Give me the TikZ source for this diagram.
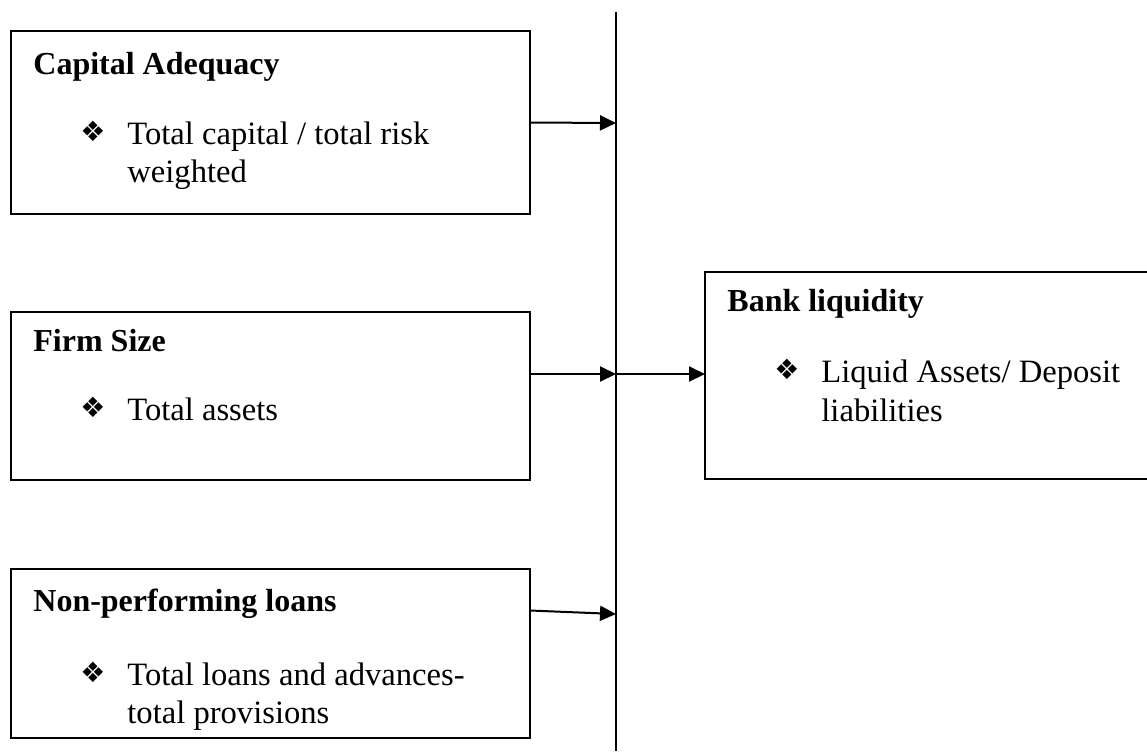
\documentclass[tikz,border=0pt]{standalone}
\usepackage{fontspec}
\setmainfont{Liberation Serif}
\newfontfamily\dingfont{DejaVu Sans}
\usetikzlibrary{arrows.meta}

\tikzset{
  factor/.style={draw, line width=1pt, inner sep=0pt, outer sep=0pt, anchor=north west},
  heading/.style={anchor=base west, inner sep=0pt, font=\fontsize{16}{19}\selectfont\bfseries},
  entry/.style={anchor=base west, inner sep=0pt, font=\fontsize{16.3}{19}\selectfont},
  bul/.style={inner sep=0pt, font=\dingfont\fontsize{14}{16}\selectfont},
  feed/.style={line width=1pt, -{Triangle[length=8pt,width=7.5pt]}}
}

\begin{document}
\begin{tikzpicture}[x=0.5pt, y=-0.5pt]
\useasboundingbox (0,0) rectangle (1147,751);
\clip (0,0) rectangle (1147,751);

% Define boxes
\node[factor, minimum width=259.5pt, minimum height=91.5pt] (cap) at (11,31) {};
\node[factor, minimum width=259.5pt, minimum height=84pt] (size) at (11,312) {};
\node[factor, minimum width=259.5pt, minimum height=84.5pt] (npl) at (11,569) {};
\node[factor, minimum width=227.5pt, minimum height=103.5pt] (liq) at (705,272) {};

% Box texts
\node[heading] (capT) at (33,74) {Capital Adequacy};
\node[bul] (capB) at (93,131) {❖};
\node[entry] (capL1) at (127,144) {Total capital / total risk};
\node[entry] (capL2) at (127,182) {weighted};

\node[heading] (sizeT) at (33,351) {Firm Size};
\node[bul] (sizeB) at (93,407) {❖};
\node[entry] (sizeL1) at (127,420) {Total assets};

\node[heading] (nplT) at (33,611) {Non-performing loans};
\node[bul] (nplB) at (93,672) {❖};
\node[entry] (nplL1) at (127,685) {Total loans and advances-};
\node[entry] (nplL2) at (127,723) {total provisions};

\node[heading] (liqT) at (727,311) {Bank liquidity};
\node[bul] (liqB) at (787,369) {❖};
\node[entry] (liqL1) at (821,382) {Liquid Assets/ Deposit};
\node[entry] (liqL2) at (821,421) {liabilities};

% Vertical bar
\coordinate (top) at (616,12);
\coordinate (bot) at (616,751);
\draw[line width=1pt] (top) -- (bot);
\coordinate (hub1) at (616,123);
\coordinate (hub2) at (616,374);
\coordinate (hub3) at (616,614);

% Connect the nodes
\draw[feed] (cap.east) -- (hub1);
\draw[feed] (size.east |- hub2) -- (hub2);
\draw[feed] (hub2) -- (liq.west |- hub2);
\draw[feed] ([yshift=21.5pt]npl.east) -- (hub3);

\end{tikzpicture}
\end{document}
